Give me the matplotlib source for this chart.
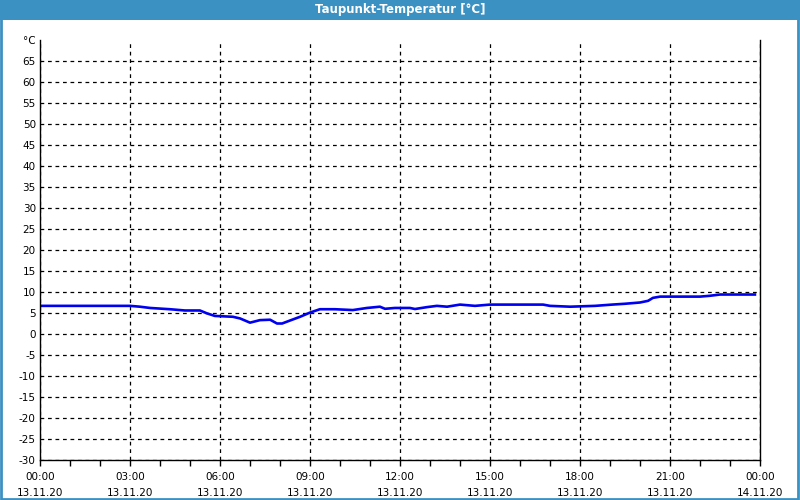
import matplotlib
matplotlib.use("Agg")
import matplotlib.pyplot as plt
from matplotlib.patches import Rectangle
from matplotlib.ticker import MultipleLocator

# Taupunkt values, hours since 13.11.20 00:00
hours = [0, 3.0, 3.33, 3.67, 4.33, 4.83, 5.33, 5.57, 5.83, 6.43, 6.67, 7.0, 7.33, 7.67,
         7.9, 8.07, 8.33, 8.67, 9.0, 9.33, 9.83, 10.43, 10.9, 11.33, 11.5, 11.83, 12.33,
         12.5, 12.9, 13.23, 13.57, 14.0, 14.5, 15.0, 16.77, 17.0, 17.67, 18.5, 19.07,
         19.5, 20.0, 20.27, 20.43, 20.67, 22.0, 22.33, 22.67, 23.83]
dewpoint = [6.7, 6.7, 6.5, 6.2, 5.9, 5.6, 5.6, 4.9, 4.3, 4.1, 3.7, 2.7, 3.3, 3.4,
            2.5, 2.5, 3.2, 4.1, 5.1, 5.9, 5.9, 5.7, 6.2, 6.5, 6.0, 6.2, 6.2,
            5.95, 6.4, 6.7, 6.5, 7.0, 6.7, 7.0, 7.0, 6.7, 6.5, 6.7, 7.0,
            7.2, 7.5, 7.9, 8.6, 8.9, 8.9, 9.1, 9.4, 9.4]

xticks = [0, 3, 6, 9, 12, 15, 18, 21, 24]
xlabels = ["00:00\n13.11.20", "03:00\n13.11.20", "06:00\n13.11.20", "09:00\n13.11.20",
           "12:00\n13.11.20", "15:00\n13.11.20", "18:00\n13.11.20", "21:00\n13.11.20",
           "00:00\n14.11.20"]
yticks = list(range(-30, 75, 5))
ylabels = [str(v) for v in yticks[:-1]] + ["°C"]

blue = "#3c91c3"

fig = plt.figure(figsize=(8, 5), dpi=100)
fig.patch.set_facecolor("white")

# window frame + title bar
fig.patches.append(Rectangle((0.001, 0.002), 0.996, 0.99, transform=fig.transFigure,
                             fill=False, edgecolor=blue, linewidth=2))
fig.patches.append(Rectangle((0, 0.96), 1, 0.04, transform=fig.transFigure,
                             facecolor=blue, edgecolor="none"))
fig.text(0.5, 0.98, "Taupunkt-Temperatur [°C]", color="white", fontsize=8.5,
         fontweight="bold", ha="center", va="center")

ax = fig.add_axes([0.05, 0.08, 0.9, 0.84])
ax.plot(hours, dewpoint, color="#0000f0", linewidth=1.9)

ax.set_xlim(0, 24)
ax.set_ylim(-30, 70)
ax.set_xticks(xticks)
ax.set_xticklabels(xlabels, fontsize=7.5, linespacing=1.65)
ax.xaxis.set_minor_locator(MultipleLocator(1))
ax.set_yticks(yticks)
ax.set_yticklabels(ylabels, fontsize=7.5)

ax.tick_params(axis="x", which="both", direction="out", length=4, width=1, pad=5)
ax.tick_params(axis="y", length=0, pad=3)

ax.grid(True, which="major", color="black", linestyle=(0, (3, 3)), linewidth=0.9)
# no grid line along the top (°C label row)
ax.yaxis.get_gridlines()[-1].set_visible(False)
ax.spines["top"].set_visible(False)
for s in ["left", "bottom", "right"]:
    ax.spines[s].set_linewidth(1)
    ax.spines[s].set_color("black")

fig.savefig("out.png", dpi=100)
